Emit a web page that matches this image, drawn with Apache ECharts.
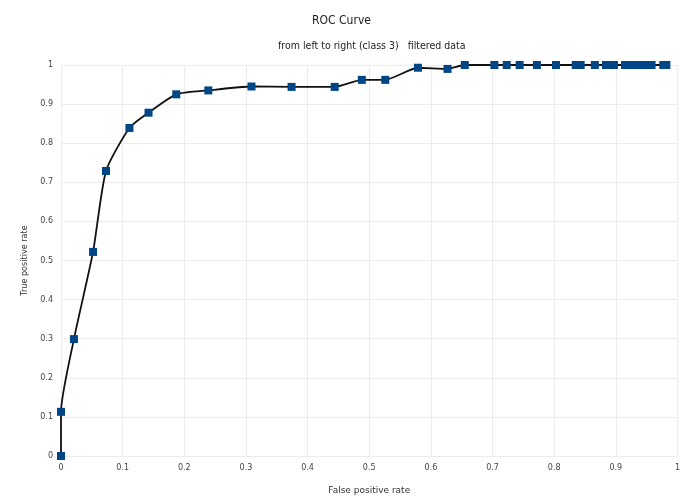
<!DOCTYPE html>
<html>
<head>
<meta charset="utf-8">
<script src="https://cdn.jsdelivr.net/npm/echarts@6/dist/echarts.min.js"></script>
<style>
html,body{margin:0;padding:0;background:#fff;}
#c{width:683px;height:500px;}
</style>
</head>
<body>
<div id="c"></div>
<script>
const fpr = [0, 0, 0.021, 0.052, 0.073, 0.111, 0.142, 0.187, 0.239, 0.309, 0.374, 0.444, 0.488, 0.526, 0.579, 0.627, 0.655, 0.703, 0.723, 0.744, 0.772, 0.803, 0.835, 0.843, 0.866, 0.884, 0.897, 0.915, 0.926, 0.937, 0.948, 0.958, 0.977, 0.982];
const tpr = [0, 0.113, 0.299, 0.522, 0.729, 0.839, 0.878, 0.925, 0.935, 0.945, 0.944, 0.944, 0.962, 0.962, 0.993, 0.990, 1, 1, 1, 1, 1, 1, 1, 1, 1, 1, 1, 1, 1, 1, 1, 1, 1, 1];
const titleText = 'ROC Curve';
const subtitleText = 'from left to right (class 3)   filtered data';
const xName = 'False positive rate';
const yName = 'True positive rate';

const points = fpr.map((x, i) => [x, tpr[i]]);
const chart = echarts.init(document.getElementById('c'), null, {renderer: 'canvas'});
const font = 'DejaVu Sans';
const fontC = 'DejaVu Sans Condensed, DejaVu Sans';
chart.setOption({
  animation: false,
  backgroundColor: '#fff',
  title: [
    {text: titleText, left: 'center', top: 10, textStyle: {fontFamily: fontC, fontSize: 12, fontWeight: 'normal', color: '#222'}},
    {text: subtitleText, left: 273, top: 36, textStyle: {fontFamily: fontC, fontSize: 10.5, fontWeight: 'normal', color: '#222'}}
  ],
  grid: {left: 61, right: 2, top: 65, bottom: 39, containLabel: false},
  xAxis: {
    type: 'value', min: 0, max: 1, interval: 0.1,
    name: xName, nameLocation: 'middle', nameGap: 30,
    nameTextStyle: {fontFamily: font, fontSize: 9, color: '#333'},
    axisLine: {show: false}, axisTick: {show: false},
    axisLabel: {fontFamily: font, fontSize: 8, color: '#444', margin: 8},
    splitLine: {show: true, lineStyle: {color: '#ececec', width: 1}}
  },
  yAxis: {
    type: 'value', min: 0, max: 1, interval: 0.1,
    name: yName, nameLocation: 'middle', nameGap: 32, nameRotate: 90,
    nameTextStyle: {fontFamily: fontC, fontSize: 9, color: '#333'},
    axisLine: {show: false}, axisTick: {show: false},
    axisLabel: {fontFamily: font, fontSize: 8, color: '#444', margin: 8},
    splitLine: {show: true, lineStyle: {color: '#ececec', width: 1}}
  },
  series: [{
    type: 'line',
    data: points,
    smooth: 0.2,
    symbol: 'rect',
    symbolSize: 8,
    lineStyle: {color: '#111', width: 1.8},
    itemStyle: {color: '#004586'},
    z: 3
  }]
});
</script>
</body>
</html>
